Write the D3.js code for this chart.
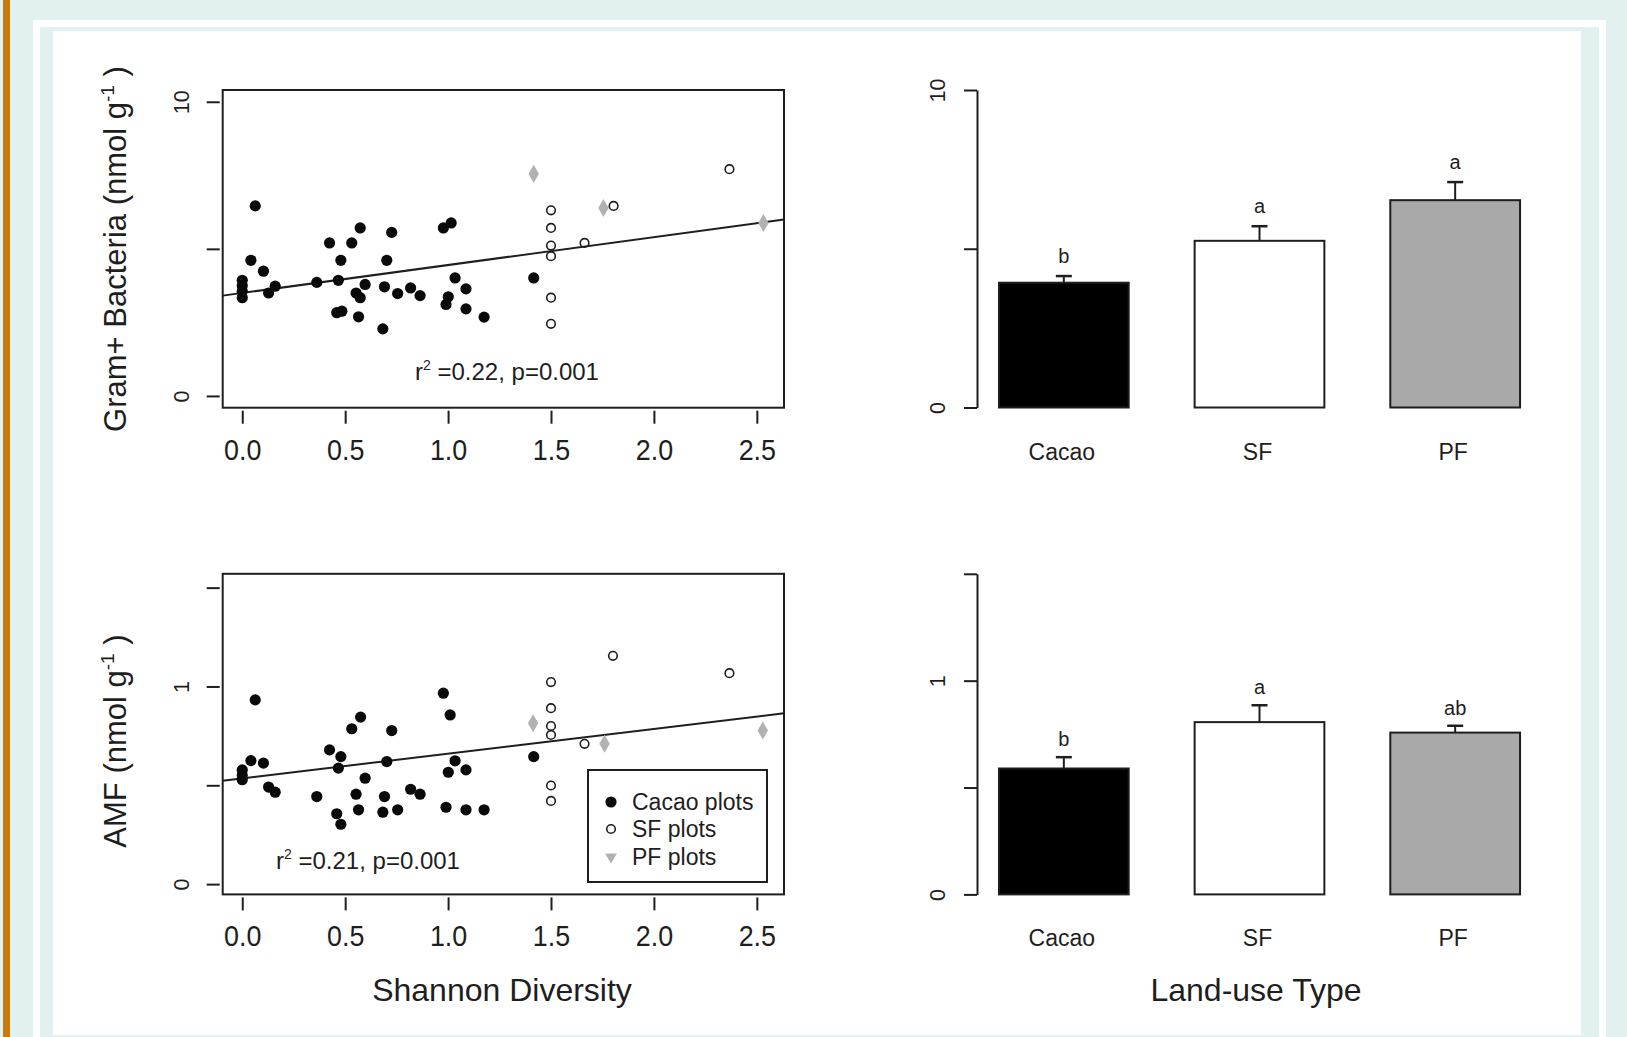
<!DOCTYPE html>
<html><head><meta charset="utf-8">
<script src="https://cdn.jsdelivr.net/npm/d3@7"></script>
<style>
html,body{margin:0;padding:0;background:#e2f0f0;}
svg{display:block;}
text{font-family:"Liberation Sans",Arial,sans-serif;fill:#1e1e1e;}
</style></head>
<body>
<svg id="chart" width="1627" height="1037"></svg>
<script>
// ---------------- DATA ----------------
const shannonTicks = [0, 0.5, 1.0, 1.5, 2.0, 2.5];
const shannonTickLabels = ["0.0", "0.5", "1.0", "1.5", "2.0", "2.5"];
const gramTicks = [0, 5, 10];
const gramTickLabels = ["0", "", "10"];
const amfTicks = [0, 0.5, 1, 1.5];
const amfTickLabels = ["0", "", "1", ""];

// Gram+ Bacteria vs Shannon diversity  [shannon, value]
const gramCacao = [[0.063,6.46],[0.042,4.61],[0.103,4.24],[0,3.93],[0,3.75],[0,3.56],[0,3.34],[0.128,3.50],[0.16,3.73],[0.362,3.86],[0.424,5.20],[0.467,3.93],[0.479,4.61],[0.459,2.83],[0.484,2.88],[0.573,5.71],[0.532,5.20],[0.597,3.79],[0.553,3.50],[0.573,3.34],[0.565,2.69],[0.683,2.28],[0.726,5.56],[0.702,4.61],[0.691,3.71],[0.755,3.48],[0.818,3.67],[0.864,3.41],[0.977,5.71],[1.015,5.88],[1.034,4.01],[1.001,3.37],[0.99,3.11],[1.087,3.64],[1.087,2.96],[1.175,2.68],[1.416,4.01]];
const gramSF = [[1.5,6.31],[1.5,5.71],[1.5,5.11],[1.5,4.75],[1.5,3.34],[1.5,2.45],[1.663,5.20],[1.804,6.46],[2.367,7.71]];
const gramPF = [[1.416,7.55],[1.755,6.39],[2.532,5.88]];
const gramFit = [3.5, 0.95]; // intercept, slope

// AMF vs Shannon diversity
const amfCacao = [[0.063,0.932],[0.042,0.625],[0,0.578],[0,0.55],[0,0.528],[0.103,0.612],[0.128,0.491],[0.16,0.465],[0.362,0.443],[0.424,0.679],[0.479,0.645],[0.467,0.587],[0.459,0.356],[0.479,0.303],[0.532,0.786],[0.575,0.845],[0.597,0.536],[0.553,0.455],[0.565,0.376],[0.726,0.777],[0.702,0.62],[0.691,0.443],[0.683,0.364],[0.755,0.376],[0.818,0.48],[0.864,0.455],[0.977,0.966],[1.01,0.856],[1.034,0.624],[1.001,0.566],[1.087,0.578],[0.99,0.389],[1.087,0.376],[1.175,0.376],[1.416,0.645]];
const amfSF = [[1.5,1.022],[1.5,0.89],[1.5,0.80],[1.5,0.755],[1.5,0.499],[1.5,0.421],[1.663,0.71],[1.801,1.155],[2.367,1.067]];
const amfPF = [[1.413,0.814],[1.76,0.71],[2.529,0.777]];
const amfFit = [0.535, 0.125];

// Land-use bar charts
const landUse = ["Cacao", "SF", "PF"];
const barColors = ["#000000", "#ffffff", "#a9a9a9"];
const gramMeans = [3.93, 5.25, 6.53];
const gramSE = [0.21, 0.46, 0.57];
const gramLetters = ["b", "a", "a"];
const amfMeans = [0.589, 0.806, 0.757];
const amfSE = [0.053, 0.079, 0.032];
const amfLetters = ["b", "a", "ab"];

const legendLabels = ["Cacao plots", "SF plots", "PF plots"];

// ---------------- FRAME ----------------
const svg = d3.select("#chart");
svg.append("rect").attr("width",1627).attr("height",1037).attr("fill","#e2f0f0");
svg.append("rect").attr("x",3).attr("y",0).attr("width",7).attr("height",1037).attr("fill","#c97a0c");
svg.append("rect").attr("x",36.5).attr("y",23.5).attr("width",1566).attr("height",1030)
  .attr("fill","none").attr("stroke","#ffffff").attr("stroke-width",7);
svg.append("rect").attr("x",53).attr("y",31).attr("width",1528).attr("height",1004).attr("fill","#ffffff");

const INK = "#1e1e1e";

// ---------------- SCATTER ----------------
function scatter(o){
  const g = svg.append("g");
  const x = d3.scaleLinear().domain([-0.095, 2.632]).range([o.left, o.right]);
  const y = d3.scaleLinear().domain(o.ydom).range([o.bottom, o.top]);
  // box
  g.append("rect").attr("x",o.left).attr("y",o.top).attr("width",o.right-o.left).attr("height",o.bottom-o.top)
    .attr("fill","none").attr("stroke",INK).attr("stroke-width",2);
  // x axis
  const xa = g.append("g").attr("transform",`translate(0,${o.bottom+3})`)
    .call(d3.axisBottom(x).tickValues(shannonTicks).tickSize(13).tickPadding(18)
      .tickFormat((d,i)=>shannonTickLabels[i]));
  xa.select(".domain").remove();
  xa.selectAll("line").attr("stroke",INK).attr("stroke-width",2);
  xa.selectAll("text").attr("font-size",28).attr("fill",INK).attr("dy",null).attr("y",null)
    .attr("transform","translate(0,49) scale(0.96,1.06)");
  // y axis
  const ya = g.append("g").attr("transform",`translate(${o.left-3},0)`)
    .call(d3.axisLeft(y).tickValues(o.ticks).tickSize(13).tickFormat((d,i)=>o.tickLabels[i]));
  ya.select(".domain").remove();
  ya.selectAll("line").attr("stroke",INK).attr("stroke-width",2);
  ya.selectAll("text").attr("font-size",21.5).attr("fill",INK).attr("text-anchor","middle")
    .attr("x",null).attr("dy",null)
    .attr("transform",`translate(${189-(o.left-3)},0) rotate(-90)`);
  // regression line
  const xd = x.domain();
  g.append("line").attr("x1",x(xd[0])).attr("x2",x(xd[1]))
    .attr("y1",y(o.fit[0]+o.fit[1]*xd[0])).attr("y2",y(o.fit[0]+o.fit[1]*xd[1]))
    .attr("stroke",INK).attr("stroke-width",2);
  // points
  g.selectAll(".pf").data(o.pf).join("path").attr("class","pf")
    .attr("d",d3.symbol(d3.symbolDiamond,95)())
    .attr("transform",d=>`translate(${x(d[0])},${y(d[1])})`).attr("fill","#b2b2b2");
  g.selectAll(".sf").data(o.sf).join("circle").attr("class","sf")
    .attr("cx",d=>x(d[0])).attr("cy",d=>y(d[1])).attr("r",4.3)
    .attr("fill","none").attr("stroke",INK).attr("stroke-width",1.6);
  g.selectAll(".cc").data(o.cacao).join("circle").attr("class","cc")
    .attr("cx",d=>x(d[0])).attr("cy",d=>y(d[1])).attr("r",5.6).attr("fill","#0a0a0a");
  // r2 text
  const t = g.append("text").attr("x",o.statX).attr("y",o.statY).attr("text-anchor","middle")
    .attr("font-size",24).attr("fill",INK);
  t.append("tspan").text("r");
  t.append("tspan").attr("font-size",14).attr("dy",-10).text("2");
  t.append("tspan").attr("dy",10).text(" =" + o.stat);
  // y title
  const yt = g.append("text").attr("transform",`translate(126,${o.titleY}) rotate(-90)`)
    .attr("text-anchor","middle").attr("font-size",31).attr("fill",INK);
  yt.append("tspan").text(o.title);
  yt.append("tspan").attr("font-size",19).attr("dy",-12).text("-1");
  yt.append("tspan").attr("dy",12).text(" )");
  return {g,x,y};
}

scatter({left:222.7,right:784,top:90,bottom:407.7,ydom:[-0.4,10.4],ticks:gramTicks,tickLabels:gramTickLabels,
  fit:gramFit,cacao:gramCacao,sf:gramSF,pf:gramPF,stat:"0.22, p=0.001",statX:507,statY:380,
  title:"Gram+ Bacteria (nmol g",titleY:249});

scatter({left:222.7,right:784,top:573.8,bottom:894.4,ydom:[-0.052,1.57],ticks:amfTicks,tickLabels:amfTickLabels,
  fit:amfFit,cacao:amfCacao,sf:amfSF,pf:amfPF,stat:"0.21, p=0.001",statX:368,statY:869,
  title:"AMF (nmol g",titleY:741});

// legend
const lg = svg.append("g");
lg.append("rect").attr("x",588).attr("y",770).attr("width",179).attr("height",112)
  .attr("fill","#ffffff").attr("stroke",INK).attr("stroke-width",2);
const legY = [802, 829, 857];
lg.append("circle").attr("cx",611).attr("cy",legY[0]).attr("r",5.6).attr("fill","#0a0a0a");
lg.append("circle").attr("cx",611).attr("cy",legY[1]).attr("r",4.3).attr("fill","none").attr("stroke",INK).attr("stroke-width",1.6);
lg.append("path").attr("d",d3.symbol(d3.symbolTriangle,60)()).attr("transform",`translate(611,${legY[2]}) rotate(180)`).attr("fill","#b2b2b2");
legendLabels.forEach((s,i)=>{
  lg.append("text").attr("x",632).attr("y",legY[i]+8).attr("font-size",23).attr("fill",INK).text(s);
});

svg.append("text").attr("x",502).attr("y",1001).attr("text-anchor","middle").attr("font-size",32).text("Shannon Diversity");

// ---------------- BARS ----------------
function bars(o){
  const g = svg.append("g");
  const x = d3.scaleBand().domain(landUse).range([966, 1553]).paddingInner(0.337).paddingOuter(0.1685);
  const y = d3.scaleLinear().domain([0, o.ymax]).range([o.bottom, o.top]);
  const ya = g.append("g").attr("transform","translate(977,0)")
    .call(d3.axisLeft(y).tickValues(o.ticks).tickSize(13).tickSizeOuter(0).tickFormat((d,i)=>o.tickLabels[i]));
  ya.select(".domain").attr("stroke",INK).attr("stroke-width",2);
  ya.selectAll("line").attr("stroke",INK).attr("stroke-width",2);
  ya.selectAll("text").attr("font-size",21.5).attr("fill",INK).attr("text-anchor","middle")
    .attr("x",null).attr("dy",null).attr("transform",`translate(${945-977},0) rotate(-90)`);
  // error bars
  landUse.forEach((c,i)=>{
    const cx = x(c)+x.bandwidth()/2;
    g.append("line").attr("x1",cx).attr("x2",cx).attr("y1",y(o.means[i])).attr("y2",y(o.means[i]+o.se[i]))
      .attr("stroke",INK).attr("stroke-width",2);
    g.append("line").attr("x1",cx-8).attr("x2",cx+8).attr("y1",y(o.means[i]+o.se[i])).attr("y2",y(o.means[i]+o.se[i]))
      .attr("stroke",INK).attr("stroke-width",2.5);
    g.append("text").attr("x",cx).attr("y",y(o.means[i]+o.se[i])-o.letterGap).attr("text-anchor","middle")
      .attr("font-size",20).attr("fill",INK).text(o.letters[i]);
    g.append("text").attr("x",cx-2).attr("y",o.bottom+52).attr("text-anchor","middle")
      .attr("font-size",23).attr("fill",INK).text(c);
  });
  g.selectAll(".bar").data(o.means).join("rect").attr("class","bar")
    .attr("x",(d,i)=>x(landUse[i])).attr("width",x.bandwidth())
    .attr("y",d=>y(d)).attr("height",d=>y(0)-y(d))
    .attr("fill",(d,i)=>barColors[i]).attr("stroke",INK).attr("stroke-width",2);
}
bars({top:90,bottom:407.5,ymax:10,ticks:gramTicks,tickLabels:gramTickLabels,means:gramMeans,se:gramSE,letters:gramLetters,letterGap:13});
bars({top:573.8,bottom:894.4,ymax:1.5,ticks:amfTicks,tickLabels:amfTickLabels,means:amfMeans,se:amfSE,letters:amfLetters,letterGap:11});

svg.append("text").attr("x",1256).attr("y",1001).attr("text-anchor","middle").attr("font-size",32).text("Land-use Type");
</script>
</body></html>
